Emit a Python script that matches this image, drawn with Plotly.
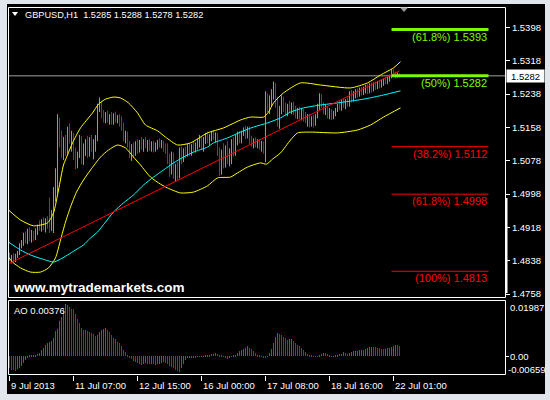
import plotly.graph_objects as go

# ---------------- data ----------------
OPEN = [
    1.4850, 1.4842, 1.4848, 1.4840, 1.4852, 1.4858, 1.4876, 1.4884, 1.4898, 1.4885,
    1.4910, 1.4890, 1.4905, 1.4892, 1.4912, 1.4920, 1.4915, 1.4932, 1.4920, 1.4935,
    1.4925, 1.4918, 1.4950, 1.5005, 1.5050, 1.5170, 1.5120, 1.5095, 1.5128, 1.5100,
    1.5150, 1.5130, 1.5142, 1.5090, 1.5065, 1.5095, 1.5130, 1.5080, 1.5112, 1.5120,
    1.5095, 1.5128, 1.5110, 1.5125, 1.5135, 1.5205, 1.5220, 1.5188, 1.5178, 1.5190,
    1.5175, 1.5185, 1.5170, 1.5188, 1.5175, 1.5182, 1.5165, 1.5155, 1.5130, 1.5142,
    1.5115, 1.5092, 1.5110, 1.5095, 1.5120, 1.5102, 1.5122, 1.5112, 1.5125, 1.5115,
    1.5122, 1.5108, 1.5120, 1.5105, 1.5118, 1.5125, 1.5115, 1.5122, 1.5108, 1.5100,
    1.5078, 1.5050, 1.5090, 1.5045, 1.5060, 1.5040, 1.5100, 1.5078, 1.5100, 1.5092,
    1.5112, 1.5098, 1.5115, 1.5105, 1.5118, 1.5125, 1.5132, 1.5112, 1.5130, 1.5140,
    1.5125, 1.5138, 1.5145, 1.5132, 1.5140, 1.5098, 1.5050, 1.5098, 1.5068, 1.5108,
    1.5078, 1.5100, 1.5125, 1.5095, 1.5135, 1.5142, 1.5128, 1.5145, 1.5155, 1.5138,
    1.5155, 1.5125, 1.5118, 1.5128, 1.5115, 1.5125, 1.5112, 1.5120, 1.5100, 1.5230,
    1.5205, 1.5228, 1.5245, 1.5262, 1.5212, 1.5170, 1.5200, 1.5225, 1.5205, 1.5192,
    1.5210, 1.5200, 1.5212, 1.5195, 1.5188, 1.5200, 1.5185, 1.5198, 1.5180, 1.5172,
    1.5185, 1.5165, 1.5180, 1.5168, 1.5185, 1.5208, 1.5232, 1.5212, 1.5195, 1.5205,
    1.5188, 1.5198, 1.5182, 1.5192, 1.5200, 1.5210, 1.5205, 1.5220, 1.5210, 1.5222,
    1.5215, 1.5240, 1.5225, 1.5240, 1.5246, 1.5235, 1.5250, 1.5240, 1.5252, 1.5256,
    1.5245, 1.5260, 1.5250, 1.5262, 1.5255, 1.5266, 1.5258, 1.5268, 1.5272, 1.5268,
    1.5278, 1.5282, 1.5294, 1.5285, 1.5280, 1.5285,
]
HIGH = [
    1.4858, 1.4852, 1.4856, 1.4855, 1.4862, 1.4880, 1.4888, 1.4905, 1.4908, 1.4915,
    1.4918, 1.4912, 1.4910, 1.4916, 1.4925, 1.4935, 1.4938, 1.4942, 1.4940, 1.4945,
    1.4990, 1.4960, 1.5015, 1.5060, 1.5190, 1.5182, 1.5150, 1.5135, 1.5140, 1.5160,
    1.5168, 1.5150, 1.5145, 1.5110, 1.5100, 1.5140, 1.5138, 1.5120, 1.5130, 1.5138,
    1.5135, 1.5140, 1.5130, 1.5140, 1.5215, 1.5230, 1.5222, 1.5200, 1.5195, 1.5198,
    1.5190, 1.5195, 1.5192, 1.5196, 1.5188, 1.5190, 1.5185, 1.5170, 1.5150, 1.5148,
    1.5125, 1.5118, 1.5122, 1.5125, 1.5130, 1.5128, 1.5135, 1.5130, 1.5135, 1.5128,
    1.5130, 1.5125, 1.5126, 1.5122, 1.5128, 1.5132, 1.5128, 1.5126, 1.5120, 1.5120,
    1.5095, 1.5100, 1.5098, 1.5070, 1.5075, 1.5110, 1.5112, 1.5108, 1.5112, 1.5118,
    1.5120, 1.5118, 1.5125, 1.5122, 1.5130, 1.5140, 1.5138, 1.5135, 1.5145, 1.5148,
    1.5142, 1.5150, 1.5152, 1.5146, 1.5145, 1.5110, 1.5105, 1.5120, 1.5115, 1.5125,
    1.5108, 1.5130, 1.5135, 1.5140, 1.5148, 1.5150, 1.5150, 1.5158, 1.5162, 1.5160,
    1.5160, 1.5138, 1.5132, 1.5134, 1.5130, 1.5130, 1.5126, 1.5124, 1.5245, 1.5240,
    1.5235, 1.5250, 1.5268, 1.5265, 1.5232, 1.5210, 1.5235, 1.5232, 1.5218, 1.5215,
    1.5222, 1.5218, 1.5220, 1.5210, 1.5205, 1.5208, 1.5205, 1.5202, 1.5195, 1.5190,
    1.5190, 1.5185, 1.5188, 1.5190, 1.5215, 1.5240, 1.5238, 1.5218, 1.5212, 1.5210,
    1.5205, 1.5202, 1.5198, 1.5205, 1.5215, 1.5222, 1.5225, 1.5228, 1.5226, 1.5230,
    1.5245, 1.5248, 1.5245, 1.5250, 1.5252, 1.5254, 1.5255, 1.5256, 1.5260, 1.5262,
    1.5264, 1.5266, 1.5266, 1.5268, 1.5270, 1.5272, 1.5272, 1.5275, 1.5278, 1.5280,
    1.5285, 1.5298, 1.5298, 1.5292, 1.5290, 1.5288,
]
LOW = [
    1.4838, 1.4832, 1.4836, 1.4835, 1.4845, 1.4852, 1.4868, 1.4874, 1.4880, 1.4878,
    1.4885, 1.4882, 1.4886, 1.4888, 1.4900, 1.4910, 1.4908, 1.4912, 1.4906, 1.4915,
    1.4905, 1.4910, 1.4905, 1.4980, 1.5000, 1.5110, 1.5085, 1.5080, 1.5090, 1.5095,
    1.5120, 1.5100, 1.5080, 1.5058, 1.5060, 1.5085, 1.5070, 1.5068, 1.5090, 1.5085,
    1.5088, 1.5100, 1.5082, 1.5100, 1.5125, 1.5195, 1.5180, 1.5170, 1.5168, 1.5170,
    1.5165, 1.5165, 1.5165, 1.5170, 1.5168, 1.5160, 1.5150, 1.5125, 1.5120, 1.5110,
    1.5085, 1.5078, 1.5085, 1.5090, 1.5095, 1.5098, 1.5105, 1.5100, 1.5108, 1.5100,
    1.5102, 1.5100, 1.5098, 1.5100, 1.5105, 1.5110, 1.5108, 1.5100, 1.5095, 1.5070,
    1.5040, 1.5045, 1.5035, 1.5028, 1.5032, 1.5036, 1.5070, 1.5075, 1.5085, 1.5088,
    1.5090, 1.5090, 1.5100, 1.5098, 1.5105, 1.5110, 1.5105, 1.5100, 1.5118, 1.5120,
    1.5115, 1.5125, 1.5128, 1.5122, 1.5090, 1.5042, 1.5045, 1.5060, 1.5062, 1.5070,
    1.5065, 1.5070, 1.5088, 1.5090, 1.5115, 1.5120, 1.5120, 1.5138, 1.5130, 1.5132,
    1.5118, 1.5112, 1.5108, 1.5110, 1.5108, 1.5105, 1.5100, 1.5095, 1.5075, 1.5195,
    1.5190, 1.5210, 1.5225, 1.5205, 1.5160, 1.5155, 1.5190, 1.5195, 1.5185, 1.5185,
    1.5195, 1.5190, 1.5188, 1.5180, 1.5178, 1.5178, 1.5175, 1.5172, 1.5168, 1.5160,
    1.5158, 1.5160, 1.5158, 1.5162, 1.5180, 1.5200, 1.5205, 1.5190, 1.5188, 1.5180,
    1.5178, 1.5176, 1.5178, 1.5185, 1.5195, 1.5200, 1.5198, 1.5205, 1.5202, 1.5208,
    1.5208, 1.5218, 1.5220, 1.5228, 1.5230, 1.5232, 1.5235, 1.5236, 1.5240, 1.5238,
    1.5240, 1.5242, 1.5245, 1.5248, 1.5250, 1.5252, 1.5254, 1.5258, 1.5262, 1.5262,
    1.5268, 1.5276, 1.5280, 1.5276, 1.5278, 1.5278,
]
CLOSE = [
    1.4842, 1.4848, 1.4840, 1.4852, 1.4858, 1.4876, 1.4884, 1.4898, 1.4885, 1.4910,
    1.4890, 1.4905, 1.4892, 1.4912, 1.4920, 1.4915, 1.4932, 1.4920, 1.4935, 1.4925,
    1.4918, 1.4950, 1.5005, 1.5050, 1.5170, 1.5120, 1.5095, 1.5128, 1.5100, 1.5150,
    1.5130, 1.5142, 1.5090, 1.5065, 1.5095, 1.5130, 1.5080, 1.5112, 1.5120, 1.5095,
    1.5128, 1.5110, 1.5125, 1.5135, 1.5205, 1.5220, 1.5188, 1.5178, 1.5190, 1.5175,
    1.5185, 1.5170, 1.5188, 1.5175, 1.5182, 1.5165, 1.5155, 1.5130, 1.5142, 1.5115,
    1.5092, 1.5110, 1.5095, 1.5120, 1.5102, 1.5122, 1.5112, 1.5125, 1.5115, 1.5122,
    1.5108, 1.5120, 1.5105, 1.5118, 1.5125, 1.5115, 1.5122, 1.5108, 1.5100, 1.5078,
    1.5050, 1.5090, 1.5045, 1.5060, 1.5040, 1.5100, 1.5078, 1.5100, 1.5092, 1.5112,
    1.5098, 1.5115, 1.5105, 1.5118, 1.5125, 1.5132, 1.5112, 1.5130, 1.5140, 1.5125,
    1.5138, 1.5145, 1.5132, 1.5140, 1.5098, 1.5050, 1.5098, 1.5068, 1.5108, 1.5078,
    1.5100, 1.5125, 1.5095, 1.5135, 1.5142, 1.5128, 1.5145, 1.5155, 1.5138, 1.5155,
    1.5125, 1.5118, 1.5128, 1.5115, 1.5125, 1.5112, 1.5120, 1.5100, 1.5230, 1.5205,
    1.5228, 1.5245, 1.5262, 1.5212, 1.5170, 1.5200, 1.5225, 1.5205, 1.5192, 1.5210,
    1.5200, 1.5212, 1.5195, 1.5188, 1.5200, 1.5185, 1.5198, 1.5180, 1.5172, 1.5185,
    1.5165, 1.5180, 1.5168, 1.5185, 1.5208, 1.5232, 1.5212, 1.5195, 1.5205, 1.5188,
    1.5198, 1.5182, 1.5192, 1.5200, 1.5210, 1.5205, 1.5220, 1.5210, 1.5222, 1.5215,
    1.5240, 1.5225, 1.5240, 1.5246, 1.5235, 1.5250, 1.5240, 1.5252, 1.5256, 1.5245,
    1.5260, 1.5250, 1.5262, 1.5255, 1.5266, 1.5258, 1.5268, 1.5272, 1.5268, 1.5278,
    1.5282, 1.5294, 1.5285, 1.5280, 1.5285, 1.5282,
]

# Bollinger bands and moving average, sampled points (bar index, price)
BB_UPPER_X = [-0.5, 5.5, 12, 19, 22, 24.5, 27, 29, 31.5, 35.5, 41.5, 44.5, 48, 52, 55.5, 59.5,
              64, 68, 74, 78, 84, 90.5, 99, 107, 115.5, 120.5, 127, 129.5, 132, 137, 145.5,
              155.5, 170.5, 179, 185.5, 192, 195.5]
BB_UPPER_Y = [1.4960, 1.4936, 1.4922, 1.4929, 1.4953, 1.5008, 1.5068, 1.5092, 1.5121, 1.5157,
              1.5193, 1.5214, 1.5226, 1.5231, 1.5229, 1.5217, 1.5193, 1.5164, 1.5150, 1.5135,
              1.5116, 1.5121, 1.5145, 1.5157, 1.5176, 1.5183, 1.5183, 1.5195, 1.5217, 1.5241,
              1.5265, 1.5260, 1.5253, 1.5265, 1.5284, 1.5301, 1.5316]
BB_LOWER_X = [-0.5, 1.5, 5.5, 10.5, 15.5, 19.5, 23, 25.5, 28, 30.5, 33.5, 37, 40.5, 45.5, 49.5,
              54, 58, 62, 65.5, 70.5, 75.5, 79, 85.5, 92, 99, 104, 110.5, 114, 119, 125.5,
              128.5, 131.5, 135.5, 140.5, 144, 150.5, 164, 174, 180.5, 187, 195.5]
BB_LOWER_Y = [1.4847, 1.4835, 1.4821, 1.4811, 1.4811, 1.4821, 1.4845, 1.4888, 1.4931, 1.4967,
              1.5003, 1.5032, 1.5056, 1.5087, 1.5104, 1.5116, 1.5109, 1.5087, 1.5068, 1.5039,
              1.5022, 1.5013, 1.5001, 1.5003, 1.5018, 1.5037, 1.5039, 1.5049, 1.5063, 1.5073,
              1.5070, 1.5082, 1.5097, 1.5128, 1.5145, 1.5147, 1.5145, 1.5152, 1.5164, 1.5183,
              1.5205]
MA_X = [-0.5, 5.5, 10.5, 18, 22, 25.5, 29, 33, 37, 40.5, 44, 48, 52, 57, 62, 67, 72, 77, 82, 87,
        92, 99, 102, 109, 115.5, 122, 129, 135.5, 140.5, 147, 155.5, 164, 177, 187, 195.5]
MA_Y = [1.4883, 1.4864, 1.4852, 1.4840, 1.4835, 1.4842, 1.4852, 1.4864, 1.4876, 1.4893,
        1.4907, 1.4931, 1.4955, 1.4977, 1.4996, 1.5020, 1.5039, 1.5056, 1.5073, 1.5087,
        1.5099, 1.5111, 1.5121, 1.5133, 1.5147, 1.5159, 1.5169, 1.5181, 1.5195, 1.5205,
        1.5212, 1.5217, 1.5226, 1.5236, 1.5246]
TREND_X = [0, 195]
TREND_Y = [1.4832, 1.5294]

# Awesome Oscillator
AO = [
    -0.00420, -0.00470, -0.00500, -0.00515, -0.00453, -0.00404, -0.00343, -0.00221, -0.00123, -0.00037,
    0.00020, 0.00035, 0.00049, 0.00061, 0.00086, 0.00123, 0.00208, 0.00306, 0.00392, 0.00478,
    0.00515, 0.00551, 0.00637, 0.00882, 0.00968, 0.01250, 0.01373, 0.01654, 0.01838, 0.01801,
    0.01740, 0.01678, 0.01654, 0.01495, 0.01311, 0.01188, 0.01005, 0.00943, 0.00919, 0.00882,
    0.00845, 0.00821, 0.00784, 0.00723, 0.00760, 0.00845, 0.00919, 0.00968, 0.00992, 0.00943,
    0.00845, 0.00760, 0.00662, 0.00600, 0.00515, 0.00453, 0.00355, 0.00233, 0.00135, 0.00049,
    -0.00037, -0.00098, -0.00159, -0.00208, -0.00245, -0.00282, -0.00294, -0.00270, -0.00245, -0.00257,
    -0.00282, -0.00270, -0.00282, -0.00306, -0.00282, -0.00257, -0.00233, -0.00208, -0.00233, -0.00282,
    -0.00331, -0.00380, -0.00429, -0.00478, -0.00527, -0.00564, -0.00429, -0.00257, -0.00135, -0.00074,
    -0.00049, -0.00037, -0.00025, -0.00030, -0.00012, -0.00006, 0.00003, 0.00008, 0.00012, 0.00025,
    0.00049, 0.00074, 0.00098, 0.00110, 0.00086, 0.00049, 0.00025, -0.00005, -0.00037, -0.00086,
    -0.00037, -0.00012, 0.00012, 0.00061, 0.00123, 0.00172, 0.00208, 0.00245, 0.00294, 0.00355,
    0.00306, 0.00245, 0.00172, 0.00110, 0.00049, 0.00012, -0.00012, -0.00025, -0.00037, -0.00012,
    0.00110, 0.00270, 0.00453, 0.00698, 0.00833, 0.00796, 0.00747, 0.00698, 0.00637, 0.00576,
    0.00600, 0.00612, 0.00551, 0.00478, 0.00416, 0.00355, 0.00294, 0.00208, 0.00135, 0.00086,
    0.00037, 0.00012, 0.00002, -0.00010, -0.00002, 0.00037, 0.00086, 0.00123, 0.00110, 0.00074,
    0.00025, -0.00012, -0.00002, 0.00012, 0.00037, 0.00074, 0.00098, 0.00135, 0.00110, 0.00086,
    0.00110, 0.00147, 0.00172, 0.00184, 0.00196, 0.00208, 0.00221, 0.00233, 0.00257, 0.00294,
    0.00318, 0.00343, 0.00331, 0.00318, 0.00294, 0.00282, 0.00270, 0.00257, 0.00270, 0.00282,
    0.00306, 0.00331, 0.00355, 0.00392, 0.00385, 0.00376,
]
AO_MAX, AO_MIN = 0.01987, -0.00659
AO_CURRENT = 0.00376

# Fibonacci levels
FIB_UP_LEVELS = [1.5393, 1.5282]
FIB_UP_LABELS = ["(61.8%) 1.5393", "(50%) 1.5282"]
FIB_DN_LEVELS = [1.5112, 1.4998, 1.4813]
FIB_DN_LABELS = ["(38.2%) 1.5112", "(61.8%) 1.4998", "(100%) 1.4813"]
FIB_X = [191, 239.5]

PRICE_TICKS = [1.5398, 1.5318, 1.5238, 1.5158, 1.5078, 1.4998, 1.4918, 1.4838, 1.4758]
CURRENT_PRICE = 1.5282
TIME_TICKS = [0, 32, 64, 96, 128, 160, 192]
TIME_LABELS = ["9 Jul 2013", "11 Jul 07:00", "12 Jul 15:00", "16 Jul 00:00",
               "17 Jul 08:00", "18 Jul 16:00", "22 Jul 01:00"]
TITLE = "GBPUSD,H1\u00a0 1.5285 1.5288 1.5278 1.5282"
WATERMARK = "www.mytrademarkets.com"

# ---------------- figure ----------------
W, H = 550, 400
FONT = "Liberation Sans"
WINDOW_BG = "#e1e6ec"
def px(x):
    return x / W
def py(y):
    return 1 - y / H

N = len(CLOSE)
idx = list(range(N))

fig = go.Figure()
fig.add_trace(go.Ohlc(
    x=idx, open=OPEN, high=HIGH, low=LOW, close=CLOSE,
    increasing=dict(line=dict(color="#00ff00", width=1)),
    decreasing=dict(line=dict(color="#ff0000", width=1)),
    tickwidth=0, xaxis="x", yaxis="y", hoverinfo="skip"))
for xs, ys, col in [(BB_UPPER_X, BB_UPPER_Y, "#ffff00"), (BB_LOWER_X, BB_LOWER_Y, "#ffff00"),
                    (MA_X, MA_Y, "#00ffff")]:
    fig.add_trace(go.Scatter(x=xs, y=ys, mode="lines", xaxis="x", yaxis="y",
                             line=dict(color=col, width=1, shape="spline", smoothing=0.6),
                             hoverinfo="skip"))
fig.add_trace(go.Scatter(x=TREND_X, y=TREND_Y, mode="lines", xaxis="x", yaxis="y",
                         line=dict(color="#ff0000", width=1), hoverinfo="skip"))
for lv in FIB_UP_LEVELS:
    fig.add_trace(go.Scatter(x=FIB_X, y=[lv, lv], mode="lines", xaxis="x", yaxis="y",
                             line=dict(color="#7cfc00", width=3), hoverinfo="skip"))
for lv in FIB_DN_LEVELS:
    fig.add_trace(go.Scatter(x=FIB_X, y=[lv, lv], mode="lines", xaxis="x", yaxis="y",
                             line=dict(color="#ff0000", width=1), hoverinfo="skip"))

ao_colors = []
for i, v in enumerate(AO):
    up = i > 0 and v >= AO[i - 1]
    ao_colors.append("#009a00" if up else "#ff0000")
fig.add_trace(go.Bar(x=idx, y=AO, width=0.5, marker=dict(color=ao_colors, line=dict(width=0)),
                     xaxis="x2", yaxis="y2", hoverinfo="skip"))

XR = [-0.75, 247.75]
P_BOTTOM, P_TOP = 1.47488, 1.54472
tickfont = dict(family=FONT, size=9.5, color="white")

annotations = []
annotations.append(dict(text=TITLE, xref="paper", yref="paper", x=px(23), y=py(15),
                        xanchor="left", yanchor="middle", showarrow=False,
                        font=dict(family=FONT, size=9.2, color="white")))
annotations.append(dict(text=WATERMARK, xref="paper", yref="paper", x=px(11), y=py(287),
                        xanchor="left", yanchor="middle", showarrow=False,
                        font=dict(family=FONT, size=13.5, color="white", weight="bold")))
annotations.append(dict(text="AO " + f"{AO_CURRENT:.5f}", xref="paper", yref="paper",
                        x=px(12), y=py(310), xanchor="left", yanchor="middle",
                        showarrow=False, font=tickfont))
for lv, lab in zip(FIB_UP_LEVELS, FIB_UP_LABELS):
    annotations.append(dict(text=lab, xref="x", yref="y", x=FIB_X[1], y=lv, yshift=-7,
                            xanchor="right", yanchor="middle", showarrow=False,
                            font=dict(family=FONT, size=11, color="#7cfc00")))
for lv, lab in zip(FIB_DN_LEVELS, FIB_DN_LABELS):
    annotations.append(dict(text=lab, xref="x", yref="y", x=FIB_X[1], y=lv, yshift=-7,
                            xanchor="right", yanchor="middle", showarrow=False,
                            font=dict(family=FONT, size=11, color="#ff0000")))
for t, lab in zip(TIME_TICKS, TIME_LABELS):
    annotations.append(dict(text=lab, xref="x2", yref="paper", x=t, y=py(385), xshift=-1,
                            xanchor="left", yanchor="middle", showarrow=False, font=tickfont))
annotations.append(dict(text=f"{CURRENT_PRICE:.4f}", xref="paper", yref="y", x=px(506),
                        y=CURRENT_PRICE, xanchor="left", yanchor="middle", showarrow=False,
                        bgcolor="white", width=37, height=12, borderpad=0,
                        font=dict(family=FONT, size=9.5, color="black")))
annotations.append(dict(text=f"{AO_MAX:.5f}", xref="paper", yref="paper", x=px(508), y=py(307),
                        xanchor="left", yanchor="middle", showarrow=False, font=tickfont))
annotations.append(dict(text="0.00", xref="paper", yref="paper", x=px(508), y=py(356),
                        xanchor="left", yanchor="middle", showarrow=False, font=tickfont))
annotations.append(dict(text=f"{AO_MIN:.5f}", xref="paper", yref="paper", x=px(506), y=py(369),
                        xanchor="left", yanchor="middle", showarrow=False, font=tickfont))

shapes = [
    dict(type="rect", xref="paper", yref="paper", x0=px(7), x1=px(545), y0=py(394), y1=py(4),
         fillcolor="black", line=dict(width=0), layer="below"),
    dict(type="line", xref="paper", yref="y", x0=px(8.5), x1=px(505), y0=CURRENT_PRICE,
         y1=CURRENT_PRICE, line=dict(color="#a0a0a0", width=1), layer="below"),
    dict(type="rect", xref="paper", yref="paper", x0=px(8.5), x1=px(505.5), y0=py(297.5),
         y1=py(7.5), line=dict(color="white", width=1)),
    dict(type="rect", xref="paper", yref="paper", x0=px(8.5), x1=px(505.5), y0=py(374.5),
         y1=py(300.5), line=dict(color="white", width=1)),
    dict(type="rect", xref="paper", yref="paper", x0=px(505), x1=px(507.5), y0=py(293),
         y1=py(198), fillcolor="white", line=dict(width=0)),
    dict(type="path", xref="paper", yref="paper",
         path=f"M {px(12)},{py(12)} L {px(18)},{py(12)} L {px(15)},{py(16)} Z",
         fillcolor="white", line=dict(width=0)),
    dict(type="path", xref="paper", yref="paper",
         path=f"M {px(400)},{py(7.5)} L {px(408)},{py(7.5)} L {px(404)},{py(12)} Z",
         fillcolor="#9a9a9a", line=dict(width=0)),
]

fig.update_layout(
    width=W, height=H, margin=dict(l=0, r=0, t=0, b=0),
    paper_bgcolor=WINDOW_BG, plot_bgcolor="black", showlegend=False,
    font=dict(family=FONT, color="white"),
    xaxis=dict(domain=[px(8), px(505)], range=XR, anchor="y", showgrid=False, zeroline=False,
               showticklabels=False, ticks="", showline=False,
               rangeslider=dict(visible=False), fixedrange=True),
    yaxis=dict(domain=[py(298), py(7)], range=[P_BOTTOM, P_TOP], anchor="x", side="right",
               showgrid=False, zeroline=False, tickvals=PRICE_TICKS,
               ticktext=[f"{v:.4f}" for v in PRICE_TICKS], ticks="outside", ticklen=4,
               tickcolor="white", tickfont=tickfont, showline=False, fixedrange=True),
    xaxis2=dict(domain=[px(8), px(505)], range=XR, anchor="y2", matches="x", showgrid=False,
                zeroline=False, showticklabels=False, ticks="outside", ticklen=5,
                tickcolor="white", tickvals=TIME_TICKS, showline=False,
                rangeslider=dict(visible=False)),
    yaxis2=dict(domain=[py(375), py(300)], range=[AO_MIN, AO_MAX], anchor="x2", side="right",
                showgrid=False, zeroline=False, tickvals=[0], ticks="outside", ticklen=3,
                tickcolor="white", showticklabels=False, showline=False),
    bargap=0,
    annotations=annotations,
    shapes=shapes,
)

PAGE_STYLE = ("document.body.style.margin='0';document.body.style.padding='0';"
              "document.body.style.overflow='hidden';"
              "document.body.style.background='" + WINDOW_BG + "';")
fig.write_html("out.html", config={"displayModeBar": False}, post_script=PAGE_STYLE)
